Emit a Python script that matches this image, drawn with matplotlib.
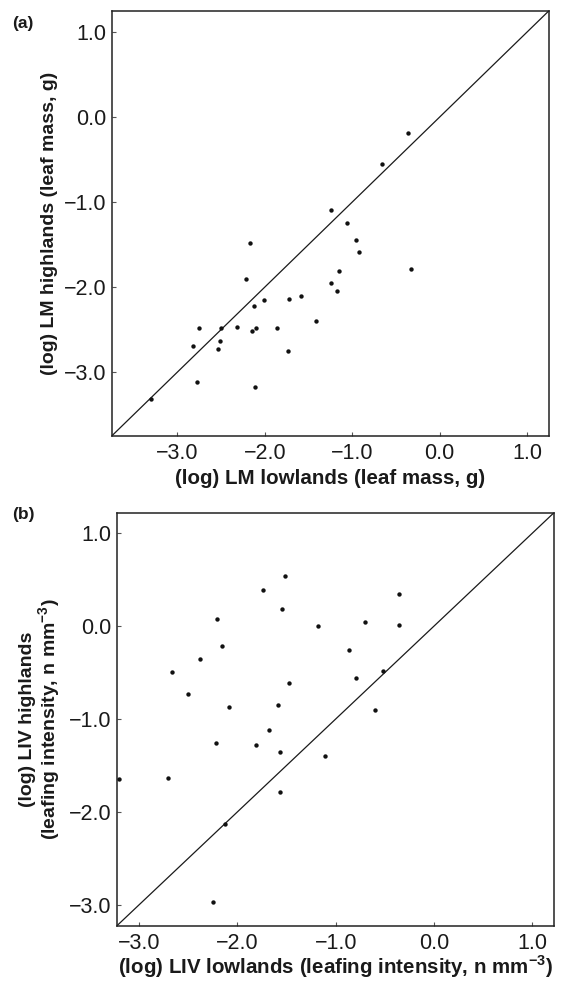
import numpy as np
import matplotlib
matplotlib.use("Agg")
import matplotlib.pyplot as plt
from matplotlib.ticker import FuncFormatter

plt.rcParams['font.family'] = ['Liberation Sans', 'DejaVu Sans']
plt.rcParams['mathtext.fontset'] = 'custom'
plt.rcParams['mathtext.rm'] = 'Liberation Sans'
plt.rcParams['mathtext.bf'] = 'Liberation Sans:bold'

# panel (a): leaf mass
lm_low = [-0.362, -0.659, -1.246, -1.059, -0.952, -0.918, -0.328, -1.154, -1.246, -1.177,
          -1.581, -1.718, -2.011, -2.126, -2.164, -2.213, -1.413, -1.859, -2.099, -2.141,
          -2.312, -2.503, -2.750, -2.514, -2.819, -2.530, -1.730, -2.777, -2.107, -3.299]
lm_high = [-0.184, -0.547, -1.099, -1.243, -1.450, -1.583, -1.787, -1.814, -1.955, -2.045,
           -2.099, -2.138, -2.154, -2.221, -1.486, -1.900, -2.404, -2.486, -2.478, -2.517,
           -2.471, -2.486, -2.486, -2.635, -2.694, -2.733, -2.752, -3.120, -3.171, -3.311]

# panel (b): leafing intensity
liv_low = [-1.513, -1.740, -0.356, -1.550, -2.205, -0.699, -1.181, -0.356, -2.154, -0.862,
           -2.385, -2.667, -0.516, -0.794, -1.472, -2.504, -1.588, -2.087, -0.601, -1.679,
           -2.219, -1.815, -1.567, -1.109, -3.206, -2.704, -1.564, -2.124, -2.249]
liv_high = [0.543, 0.386, 0.346, 0.186, 0.075, 0.043, -0.004, 0.014, -0.218, -0.257,
            -0.350, -0.496, -0.486, -0.564, -0.611, -0.736, -0.850, -0.875, -0.904, -1.121,
            -1.264, -1.282, -1.354, -1.404, -1.646, -1.632, -1.782, -2.136, -2.968]

ticks = [-3.0, -2.0, -1.0, 0.0, 1.0]

fig = plt.figure(figsize=(5.62, 9.81), dpi=100)
ax1 = fig.add_axes([0.1988, 0.5556, 0.7781, 0.4335])
ax2 = fig.add_axes([0.2082, 0.0564, 0.7776, 0.4210])

fmt = FuncFormatter(lambda v, p: ('%.1f' % v).replace('-', '\u2212'))


def style(ax, lim):
    ax.set_xlim(lim)
    ax.set_ylim(lim)
    ax.plot(lim, lim, color='#1a1a1a', lw=0.9, zorder=1)
    ax.set_xticks(ticks)
    ax.set_yticks(ticks)
    ax.xaxis.set_major_formatter(fmt)
    ax.yaxis.set_major_formatter(fmt)
    ax.tick_params(direction='in', length=3, width=0.8, color='#555555',
                   labelsize=15.5, labelcolor='#1a1a1a')
    ax.tick_params(axis='x', pad=5)
    ax.tick_params(axis='y', pad=4)
    for s in ax.spines.values():
        s.set_linewidth(1.1)
        s.set_color('#222222')


style(ax1, (-3.75, 1.25))
ax1.scatter(lm_low, lm_high, s=10, color='#111111', zorder=3, linewidths=0)
ax1.set_xlabel('(log) LM lowlands (leaf mass, g)', fontsize=14.8, fontweight='bold',
               labelpad=4, color='#1a1a1a')
ax1.set_ylabel('(log) LM highlands (leaf mass, g)', fontsize=14, fontweight='bold',
               labelpad=4, color='#1a1a1a')

style(ax2, (-3.225, 1.22))
ax2.scatter(liv_low, liv_high, s=10, color='#111111', zorder=3, linewidths=0)
ax2.set_xlabel(r'(log) LIV lowlands (leafing intensity, n mm$^{\mathbf{-3}}$)',
               fontsize=14.8, fontweight='bold', labelpad=0, color='#1a1a1a')
ax2.set_ylabel('(log) LIV highlands\n' + r'(leafing intensity, n mm$^{\mathbf{-3}}$)',
               fontsize=14, fontweight='bold', labelpad=4, linespacing=1.05,
               color='#1a1a1a')

fig.text(0.022, 0.984, '(a)', fontsize=12.5, fontweight='bold', va='top', color='#1a1a1a')
fig.text(0.022, 0.483, '(b)', fontsize=12.5, fontweight='bold', va='top', color='#1a1a1a')

fig.savefig('out.png', dpi=100)
